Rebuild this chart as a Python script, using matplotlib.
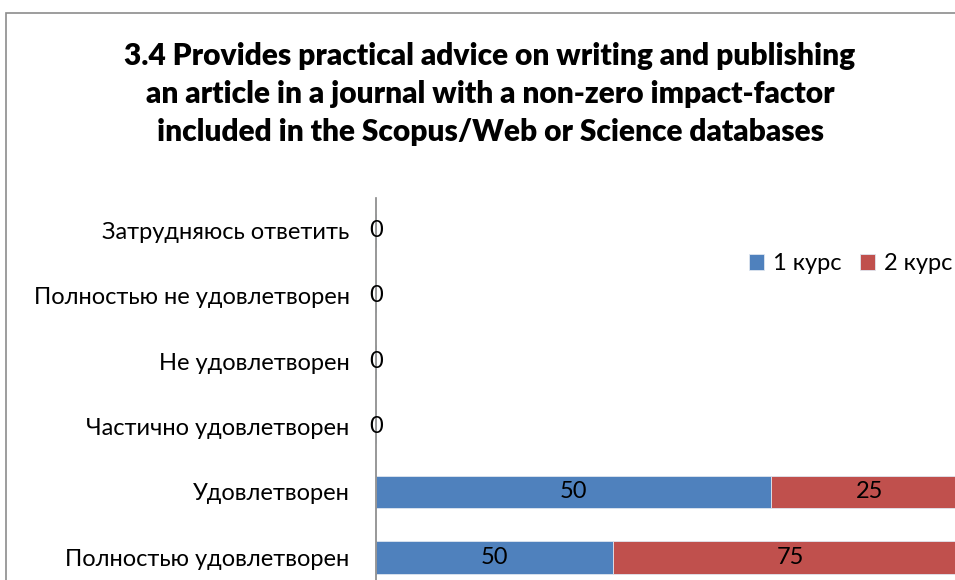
import numpy as np
import matplotlib.pyplot as plt
import matplotlib.patches as patches

plt.rcParams['font.family'] = ['Lato', 'DejaVu Sans']

categories = ['Затрудняюсь ответить', 'Полностью не удовлетворен', 'Не удовлетворен',
              'Частично удовлетворен', 'Удовлетворен', 'Полностью удовлетворен']
course1 = [0, 0, 0, 0, 50, 50]
course2 = [0, 0, 0, 0, 25, 75]
series_names = ['1 курс', '2 курс']
title = ('3.4 Provides practical advice on writing and publishing\n'
         'an article in a journal with a non-zero impact-factor\n'
         'included in the Scopus/Web or Science databases')

blue = '#4F81BD'
red = '#C0504D'

W, H = 955, 580
fig = plt.figure(figsize=(W / 100, H / 100), dpi=100)

# chart border (cropped on the right and bottom)
fig.patches.append(patches.Rectangle((6 / W, -0.1), 1.2, 1 - 13 / H + 0.1,
                                     transform=fig.transFigure, fill=False,
                                     edgecolor='#8c8c8c', lw=1.2))

# 100% stacked bars, axes run off the right/bottom edge like the screenshot
ax = fig.add_axes([376 / W, 1 - 590 / H, (968 - 376) / W, (590 - 198) / H])
c1 = np.array(course1, dtype=float)
c2 = np.array(course2, dtype=float)
tot = c1 + c2
tot[tot == 0] = 1
s1 = c1 / tot
s2 = c2 / tot
y = np.arange(len(categories))

ax.barh(y, s1, height=0.5, color=blue, edgecolor='#dfe6f0', lw=0.6, label=series_names[0])
ax.barh(y, s2, left=s1, height=0.5, color=red, edgecolor='#dfe6f0', lw=0.6, label=series_names[1])

for i in range(len(categories)):
    if course1[i] == 0 and course2[i] == 0:
        ax.text(0, y[i], '0', ha='center', va='center', fontsize=17)
        continue
    ax.text(s1[i] / 2, y[i], str(course1[i]), ha='center', va='center', fontsize=17)
    ax.text(s1[i] + s2[i] / 2, y[i], str(course2[i]), ha='center', va='center', fontsize=17)

ax.set_xlim(0, 1)
ax.set_ylim(len(categories) - 0.5, -0.5)
ax.set_yticks(y)
ax.set_yticklabels(categories, fontsize=17)
ax.tick_params(axis='y', length=0, pad=19)
ax.set_xticks([])
for s in ['top', 'right', 'bottom']:
    ax.spines[s].set_visible(False)
ax.spines['left'].set_color('#868686')
ax.spines['left'].set_linewidth(1.2)
ax.patch.set_alpha(0)

fig.text(490 / W, 1 - 94 / H, title, ha='center', va='center', fontsize=21.5,
         fontweight='heavy', linespacing=1.42)

fig.legend(loc='center left', bbox_to_anchor=(749 / W, 1 - 264 / H), ncol=2,
           frameon=False, fontsize=17, handlelength=0.65, handleheight=0.65,
           handletextpad=0.35, columnspacing=0.8, borderaxespad=0, borderpad=0)

fig.savefig('out.png', dpi=100)
